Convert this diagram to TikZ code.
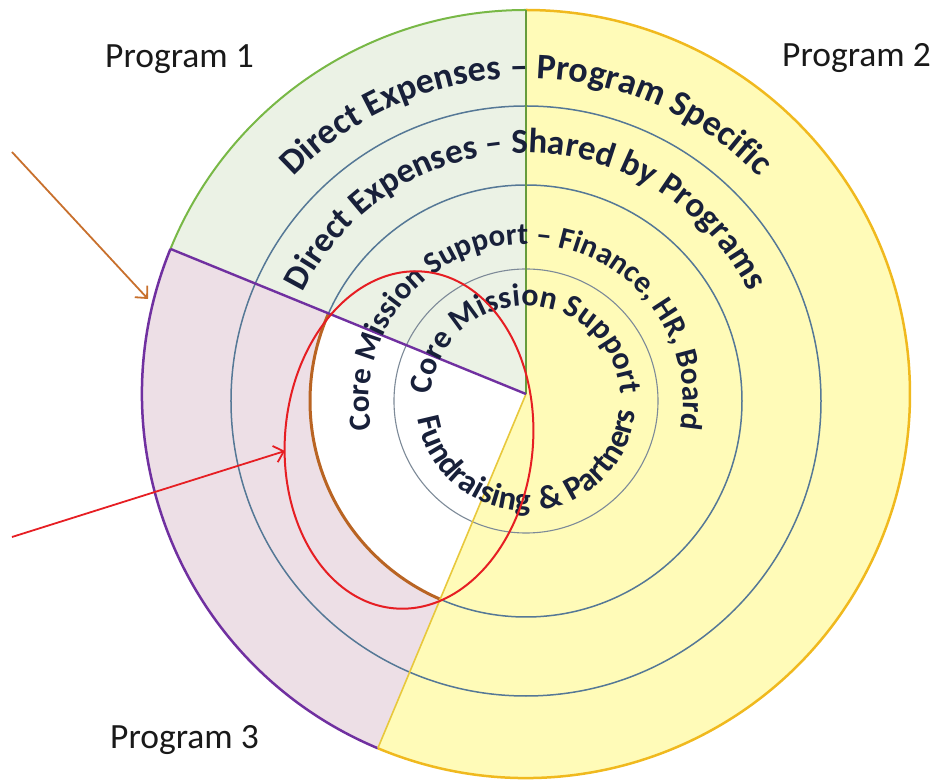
\documentclass[tikz,border=0pt]{standalone}
\usepackage{fontspec}
\setmainfont{Carlito}
\usetikzlibrary{decorations.text, arrows.meta}
\definecolor{fillyellow}{RGB}{255,251,184}
\definecolor{fillgreen}{RGB}{235,242,229}
\definecolor{fillpink}{RGB}{237,223,230}
\definecolor{goldline}{RGB}{240,185,30}
\definecolor{goldthin}{RGB}{232,200,60}
\definecolor{greenline}{RGB}{120,184,70}
\definecolor{purpleline}{RGB}{112,48,160}
\definecolor{ringblue}{RGB}{85,120,150}
\definecolor{ringgray}{RGB}{125,138,152}
\definecolor{brownline}{RGB}{185,100,35}
\definecolor{arrowbrown}{RGB}{200,112,45}
\definecolor{redline}{RGB}{230,30,35}
\definecolor{navytext}{RGB}{24,32,58}
\definecolor{labeltext}{RGB}{25,25,25}
\begin{document}
\begin{tikzpicture}[x=1pt,y=1pt,
  ring/.style={draw=ringblue, line width=1.5pt},
  ringinner/.style={draw=ringgray, line width=1.1pt},
  proglabel/.style={inner sep=0pt, anchor=base west, text=labeltext, font=\fontsize{35.5}{40}\selectfont},
  pointer/.style={line width=1.8pt, -{Straight Barb[length=9pt,width=17pt,line width=1.8pt]}}
]
\useasboundingbox (-526,-389) rectangle (413,394);
\coordinate (O) at (0,0);
\coordinate (C) at (0,-7);

% sector fills
\fill[fillyellow] (O) -- (-112.7:384) arc[start angle=-112.7, end angle=90, radius=384] -- cycle;
\fill[fillgreen] (O) -- (90:384) arc[start angle=90, end angle=157.8, radius=384] -- cycle;
\fill[fillpink] (O) -- (157.8:384) arc[start angle=157.8, end angle=247.3, radius=384] -- cycle;

% white core in program 3 sector
\begin{scope}
  \clip (O) -- (157.8:400) -- (247.3:400) -- cycle;
  \fill[white] (C) circle[radius=216];
\end{scope}

% rings
\draw[ring] (C) circle[radius=295];
\draw[ring] (C) circle[radius=216];
\draw[ringinner] (C) circle[radius=132];

% brown arc
\draw[brownline, line width=3pt, shift={(0,-7)}] (156.1:216) arc[start angle=156.1, end angle=246.6, radius=216];

% sector outlines
\draw[goldline, line width=2.5pt] (-112.7:384) arc[start angle=-112.7, end angle=90, radius=384];
\draw[greenline, line width=2pt] (90:384) arc[start angle=90, end angle=157.8, radius=384];
\draw[purpleline, line width=2.5pt] (157.8:384) arc[start angle=157.8, end angle=247.3, radius=384];
\draw[goldthin, line width=1.6pt] (O) -- (247.3:384);
\draw[greenline!85!black, line width=2pt] (O) -- (90:384);
\draw[purpleline, line width=2.4pt] (O) -- (157.8:384);

% curved texts
\path[shift={(0,-7)}, decorate, decoration={text along path, text align=center, text color=navytext,
  text={|\fontsize{36}{40}\selectfont\bfseries|Direct Expenses – Program Specific}}]
  (180:323) arc[start angle=180, end angle=0, radius=323];
\path[shift={(0,-7)}, decorate, decoration={text along path, text align=center, text color=navytext,
  text={|\fontsize{35}{40}\selectfont\bfseries|Direct Expenses – Shared by Programs}}]
  (200:248) arc[start angle=200, end angle=-20, radius=248];
\path[shift={(0,-7)}, decorate, decoration={text along path, text align=center, text color=navytext,
  text={|\fontsize{31}{36}\selectfont\bfseries|Core Mission Support – Finance, HR, Board}}]
  (210:157) arc[start angle=210, end angle=-30, radius=157];
\path[shift={(0,-7)}, decorate, decoration={text along path, text align=center, text color=navytext,
  text={|\fontsize{32}{36}\selectfont\bfseries|Core Mission Support}}]
  (200:95) arc[start angle=200, end angle=-20, radius=95];
\path[shift={(0,-7)}, decorate, decoration={text along path, text align=center, text color=navytext,
  text={|\fontsize{33}{38}\selectfont\bfseries|Fundraising {\kern4pt}{\&} Partners}}]
  (182:110) arc[start angle=182, end angle=362, radius=110];

% red ellipse
\draw[redline, line width=2pt] (-117,-46) ellipse[x radius=124, y radius=169, rotate=-5];

% arrows
\coordinate (brownstart) at (-514,242);
\coordinate (browntip) at (-378,95);
\coordinate (redstart) at (-514,-143);
\coordinate (redtip) at (-241,-57);
\draw[pointer, arrowbrown] (brownstart) -- (browntip);
\draw[pointer, redline] (redstart) -- (redtip);

% labels
\node[proglabel] (p1) at (-421,326) {Program 1};
\node[proglabel] (p2) at (256,327) {Program 2};
\node[proglabel] (p3) at (-416,-354) {Program 3};
\end{tikzpicture}
\end{document}
